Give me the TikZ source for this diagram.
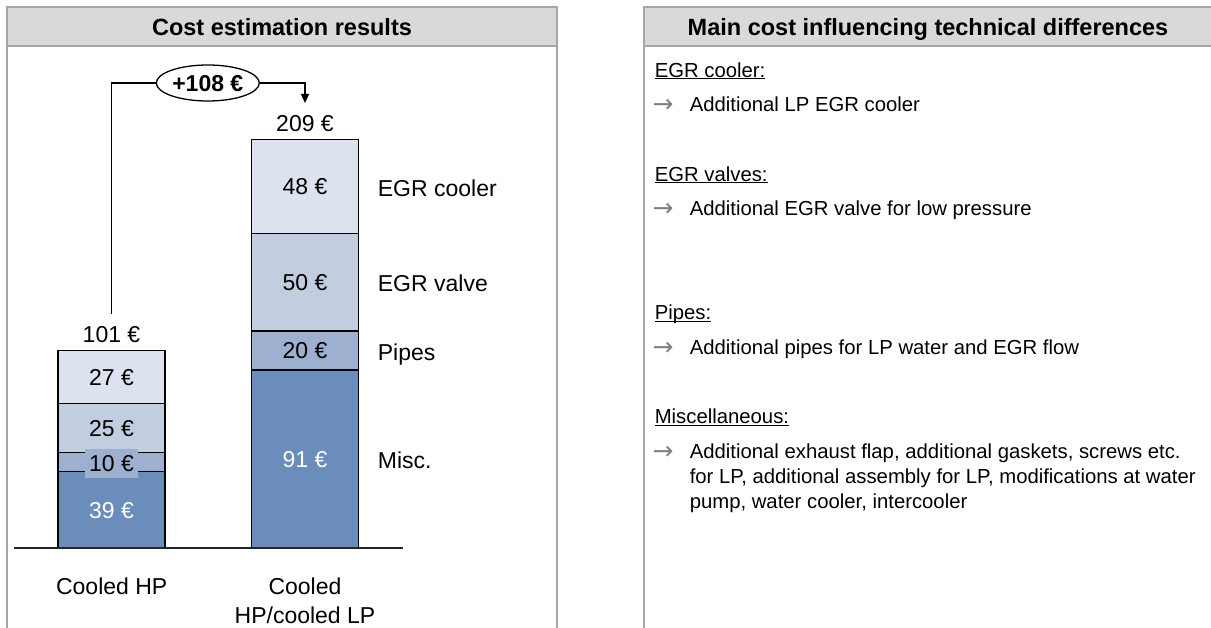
\documentclass[tikz,border=0pt]{standalone}
\usepackage{fontspec}
\setmainfont{Liberation Sans}
\newfontfamily\arrowfont{DejaVu Sans}
\usetikzlibrary{shapes.geometric,arrows.meta}
\definecolor{cool}{HTML}{DDE3EE}
\definecolor{valv}{HTML}{C2CDE0}
\definecolor{pipe}{HTML}{9DB0CF}
\definecolor{misc}{HTML}{6B8DBB}
\definecolor{panelgray}{HTML}{A6A6A6}
\definecolor{headfill}{HTML}{D9D9D9}
\definecolor{arrgray}{HTML}{808080}
\newcommand\myul[1]{\setbox0\hbox{#1}\rlap{\rule[-1.9pt]{\wd0}{1.1pt}}\box0}
\begin{document}
\begin{tikzpicture}[x=1pt,y=-1pt,
  seg/.style={draw=black,line width=1.2pt,minimum width=107pt,inner sep=0pt,
    font=\fontsize{23}{27}\selectfont,text height=16.5pt,text depth=0pt},
  lbl/.style={inner sep=0pt,font=\fontsize{23}{27}\selectfont,text height=16.5pt,text depth=0pt},
  headtxt/.style={inner sep=0pt,font=\bfseries\fontsize{23.5}{27}\selectfont,text height=16.8pt,text depth=0pt},
  rt/.style={inner sep=0pt,anchor=west,font=\fontsize{20.3}{24.7}\selectfont,text height=14.5pt,text depth=0pt},
  arr/.style={inner sep=0pt,text=arrgray,font=\arrowfont\fontsize{25}{28}\selectfont,text height=16.5pt,text depth=0pt},
  panel/.style={draw=panelgray,line width=1.5pt},
  conn/.style={line width=1.3pt,draw=black}]
\useasboundingbox (0,0) rectangle (1211,628);
\clip (0,0) rectangle (1211,628);
\fill[white] (0,0) rectangle (1211,628);
% panels
\draw[panel] (7,660) -- (7,7) -- (557,7) -- (557,660);
\draw[panel,fill=headfill] (7,7) rectangle (557,46);
\node[headtxt] (h1) at (282,27.6) {Cost estimation results};
\draw[panel] (644,660) -- (644,7) -- (1240,7);
\draw[panel,fill=headfill] (644,7) rectangle (1240,46);
\node[headtxt] (h2) at (928,27.6) {Main cost influencing technical differences};
% bar 1
\node[seg,fill=misc,text=white,minimum height=76.2pt] (a1) at (111.5,509.9) {39 €};
\node[seg,fill=pipe,minimum height=19.6pt] (a2) at (111.5,462) {};
\node[seg,fill=valv,minimum height=48.9pt] (a3) at (111.5,427.8) {25 €};
\node[seg,fill=cool,minimum height=52.8pt] (a4) at (111.5,377) {27 €};
\node[lbl,fill=pipe,minimum width=53pt,minimum height=28.5pt] (a2l) at (111.5,463.3) {10 €};
% bar 2
\node[seg,fill=misc,text=white,minimum height=177.9pt] (b1) at (305,459.05) {91 €};
\node[seg,fill=pipe,minimum height=39.1pt] (b2) at (305,350.55) {20 €};
\node[seg,fill=valv,minimum height=97.75pt] (b3) at (305,282.1) {50 €};
\node[seg,fill=cool,minimum height=93.85pt] (b4) at (305,186.3) {48 €};
% baseline
\coordinate (bl) at (14,548);
\coordinate (br) at (402.6,548);
\draw[line width=1.5pt,draw=black!85] (bl) -- (br);
% totals
\node[lbl] (t1) at (111.5,334) {101 €};
\node[lbl] (t2) at (305,123.3) {209 €};
% category labels
\node[lbl,anchor=west] (k1) at (377.7,188.3) {EGR cooler};
\node[lbl,anchor=west] (k2) at (377.7,283.3) {EGR valve};
\node[lbl,anchor=west] (k3) at (377.7,352.3) {Pipes};
\node[lbl,anchor=west] (k4) at (377.7,460.7) {Misc.};
% x labels
\node[lbl] (x1) at (111.7,586.7) {Cooled HP};
\node[lbl] (x2a) at (305,586.7) {Cooled};
\node[lbl] (x2b) at (305,615) {HP/cooled LP};
% difference connector
\coordinate (c1) at (111.5,314);
\coordinate (c2) at (305,103);
\node[ellipse,draw=black,line width=1.3pt,minimum width=103pt,minimum height=36pt,inner sep=0pt,
  font=\bfseries\fontsize{23}{27}\selectfont,text height=16.3pt,text depth=0pt] (diff) at (207.8,83) {+108 €};
\draw[conn] (c1) |- (diff.west);
\draw[conn,-{Triangle[length=9pt,width=8pt]}] (diff.east) -| (c2);
% right text
\node[rt] (r1) at (654.6,70) {\myul{EGR cooler:}};
\node[arr] (r1a) at (663,104) {→};
\node[rt] (r1b) at (689.6,104) {Additional LP EGR cooler};
\node[rt] (r2) at (654.6,174) {\myul{EGR valves:}};
\node[arr] (r2a) at (663,208.3) {→};
\node[rt] (r2b) at (689.6,208.3) {Additional EGR valve for low pressure};
\node[rt] (r3) at (654.6,312.7) {\myul{Pipes:}};
\node[arr] (r3a) at (663,347.3) {→};
\node[rt] (r3b) at (689.6,347.3) {Additional pipes for LP water and EGR flow};
\node[rt] (r4) at (654.6,416.7) {\myul{Miscellaneous:}};
\node[arr] (r4a) at (663,451.7) {→};
\node[rt] (r4b) at (689.6,451.7) {Additional exhaust flap, additional gaskets, screws etc.};
\node[rt] (r4c) at (689.6,476.3) {for LP, additional assembly for LP, modifications at water};
\node[rt] (r4d) at (689.6,501) {pump, water cooler, intercooler};
\end{tikzpicture}
\end{document}
